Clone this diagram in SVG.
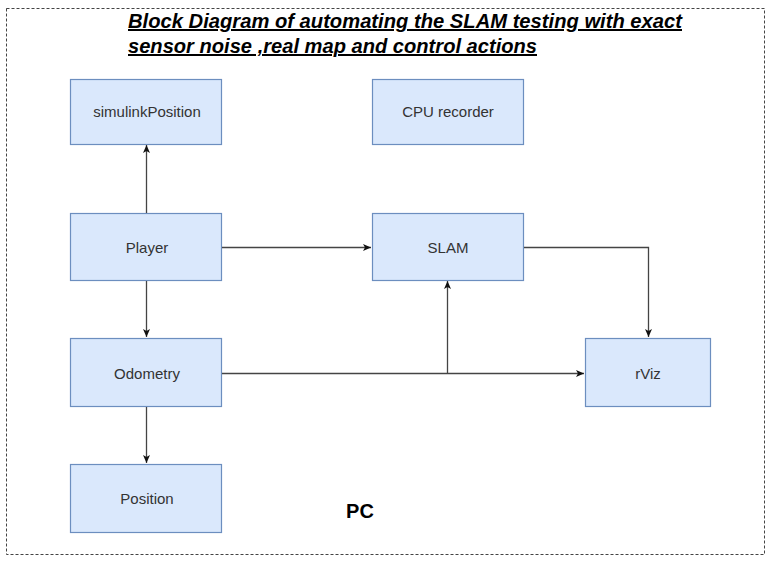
<svg xmlns="http://www.w3.org/2000/svg" width="770" height="562" viewBox="0 0 770 562">
<defs>
<marker id="arr" markerWidth="10" markerHeight="10" refX="9" refY="5" orient="auto" markerUnits="userSpaceOnUse">
<path d="M1,1.5 L9,5 L1,8.5 L3,5 Z" fill="#111"/>
</marker>
<style>
.box{fill:#dae8fc;stroke:#6c8ebf;stroke-width:1.2}
.lbl{font-family:"Liberation Sans",Arial,sans-serif;font-size:15px;fill:#333;text-anchor:middle;dominant-baseline:central}
.conn{fill:none;stroke:#444;stroke-width:1.3;marker-end:url(#arr)}
.title{font-family:"Liberation Sans",Arial,sans-serif;font-size:20px;font-weight:bold;font-style:italic;fill:#000;text-decoration:underline}
</style>
</defs>
<rect width="770" height="562" fill="#fff"/>
<rect x="6.5" y="8.5" width="758" height="546" fill="none" stroke="#444" stroke-width="1" stroke-dasharray="3,2"/>
<g id="title">
<text class="title" x="128" y="28" textLength="554" lengthAdjust="spacingAndGlyphs">Block Diagram of automating the SLAM testing with exact</text>
<text class="title" x="128" y="53" textLength="409" lengthAdjust="spacingAndGlyphs">sensor noise ,real map and control actions</text>
</g>
<g id="simulinkPosition"><rect class="box" x="70.5" y="79.5" width="151" height="65"/><text class="lbl" x="147" y="111">simulinkPosition</text></g>
<g id="cpu"><rect class="box" x="372.5" y="79.5" width="151" height="65"/><text class="lbl" x="448" y="111">CPU recorder</text></g>
<g id="player"><rect class="box" x="70.5" y="213.5" width="151" height="67"/><text class="lbl" x="147" y="247">Player</text></g>
<g id="slam"><rect class="box" x="372.5" y="213.5" width="151" height="67"/><text class="lbl" x="448" y="247">SLAM</text></g>
<g id="odometry"><rect class="box" x="70.5" y="338.5" width="151" height="68"/><text class="lbl" x="147" y="373">Odometry</text></g>
<g id="rviz"><rect class="box" x="585.5" y="338.5" width="125" height="68"/><text class="lbl" x="648" y="373">rViz</text></g>
<g id="position"><rect class="box" x="70.5" y="464.5" width="151" height="68"/><text class="lbl" x="147" y="498">Position</text></g>
<g id="pc"><text x="360" y="518" font-family="'Liberation Sans',Arial,sans-serif" font-size="20" font-weight="bold" fill="#000" text-anchor="middle">PC</text></g>
<g id="connectors">
<path class="conn" d="M146.5,213 L146.5,145"/>
<path class="conn" d="M222,247.5 L371,247.5"/>
<path class="conn" d="M146.5,281 L146.5,337"/>
<path class="conn" d="M146.5,407 L146.5,463"/>
<path class="conn" d="M222,373.5 L584,373.5"/>
<path class="conn" d="M447.5,373.5 L447.5,281"/>
<path class="conn" d="M524,247.5 L648.5,247.5 L648.5,337"/>
</g>
</svg>
